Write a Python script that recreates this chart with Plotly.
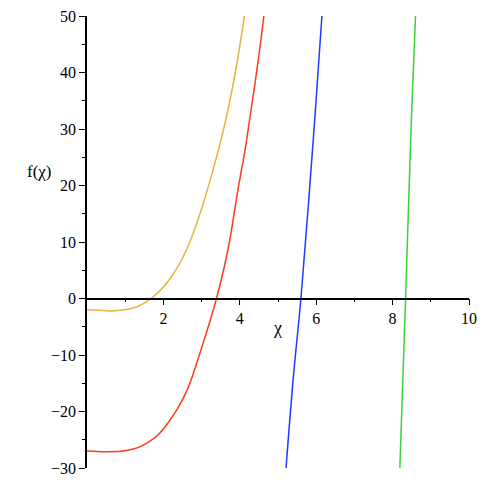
import plotly.graph_objects as go

# values
orange_x = [0, 0.3, 0.6, 0.86, 1.1, 1.29, 1.45, 1.64, 1.85, 2.08, 2.43, 2.71,
            3.0, 3.26, 3.52, 3.74, 3.94, 4.12]
orange_y = [-2.0, -2.1, -2.2, -2.1, -1.85, -1.5, -1.0, -0.2, 1.0, 2.65, 6.2, 10.3,
            15.9, 21.8, 28.4, 35.0, 42.2, 50.0]

red_x = [0, 0.54, 1.07, 1.33, 1.59, 1.85, 2.11, 2.37, 2.64, 2.95, 3.21, 3.39,
         3.6, 3.74, 3.95, 4.13, 4.30, 4.48, 4.63]
red_y = [-27.0, -27.14, -26.84, -26.4, -25.5, -24.2, -22.1, -19.5, -15.9, -9.8,
         -4.2, 0.0, 5.8, 10.4, 19.2, 26.0, 33.6, 42.0, 50.0]

blue_x = [5.21, 5.41, 5.6, 5.96, 6.15]
blue_y = [-30.0, -13.3, 0.0, 31.5, 50.0]

green_x = [8.19, 8.34, 8.49, 8.6]
green_y = [-30.0, 0.0, 31.5, 50.0]

x_ticks = [2, 4, 6, 8, 10]
y_ticks = [-30, -20, -10, 0, 10, 20, 30, 40, 50]

FONT = "Liberation Serif, Times New Roman, serif"

fig = go.Figure()
for xs, ys, col in [(orange_x, orange_y, "#E6B43C"),
                    (red_x, red_y, "#FF3A1E"),
                    (blue_x, blue_y, "#1E3CFF"),
                    (green_x, green_y, "#3CD23C")]:
    fig.add_trace(go.Scatter(x=xs, y=ys, mode="lines",
                             line=dict(color=col, width=1.5, shape="spline", smoothing=1.0),
                             showlegend=False, hoverinfo="skip"))

fig.update_xaxes(range=[0, 10], tickmode="array", tickvals=x_ticks,
                 anchor="free", position=0.375, automargin=False,
                 ticklabeloverflow="allow",
                 showline=True, linecolor="black", linewidth=1.5,
                 ticks="outside", ticklen=6, tickwidth=1.2, tickcolor="black",
                 minor=dict(tickvals=[1, 3, 5, 7, 9], ticks="outside", ticklen=3,
                            tickwidth=1.2, tickcolor="black"),
                 showgrid=False, zeroline=False,
                 tickfont=dict(family=FONT, size=16, color="black"))
fig.update_yaxes(range=[-30, 50], tickmode="array", tickvals=y_ticks,
                 automargin=False, ticklabeloverflow="allow",
                 showline=True, linecolor="black", linewidth=1.5,
                 ticks="outside", ticklen=6, tickwidth=1.2, tickcolor="black",
                 minor=dict(tickvals=[-25, -15, -5, 5, 15, 25, 35, 45], ticks="outside",
                            ticklen=3, tickwidth=1.2, tickcolor="black"),
                 showgrid=False, zeroline=False,
                 tickfont=dict(family=FONT, size=16, color="black"))

fig.add_annotation(text="f(χ)", xref="paper", yref="paper", x=-0.162, y=0.681,
                   showarrow=False, font=dict(family=FONT, size=17, color="black"))
fig.add_annotation(text="χ", xref="paper", yref="paper", x=0.499, y=0.283,
                   showarrow=False, font=dict(family=FONT, size=18, color="black"))

# the page body adds an 8px offset, so margins are shifted to compensate
fig.update_layout(width=485, height=485, margin=dict(l=79, r=24, t=8, b=25),
                  plot_bgcolor="white", paper_bgcolor="white",
                  font=dict(family=FONT))

fig.write_html("out.html")
